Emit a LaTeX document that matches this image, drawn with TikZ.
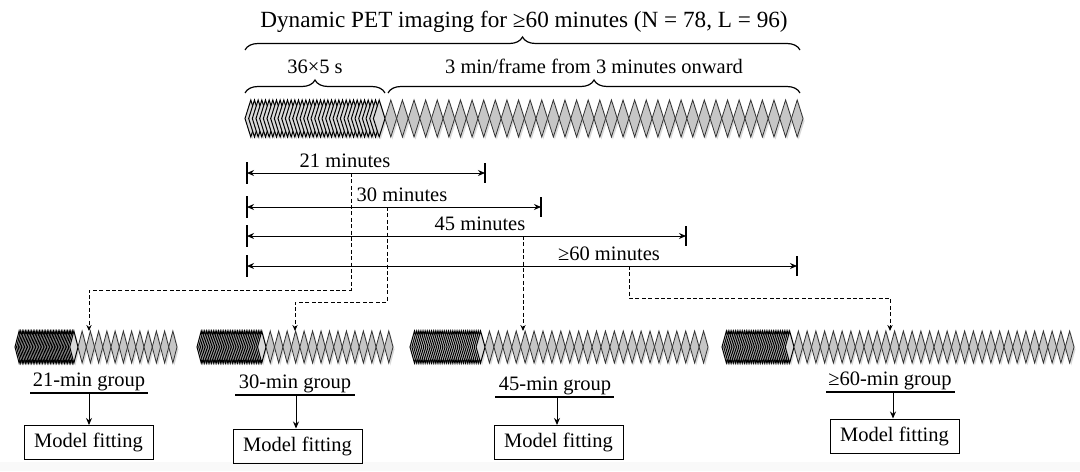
\documentclass[tikz,border=0pt]{standalone}
\usepackage{fontspec}
\setmainfont{Liberation Serif}
\usetikzlibrary{arrows.meta,decorations.pathreplacing}
\tikzset{
  txt/.style={font=\fontsize{10.25}{12}\selectfont, inner sep=0pt},
  lightd/.style={fill=gray!45, draw=black!80, line width=0.4pt},
  darkd/.style={fill=gray!30, draw=black, line width=0.5pt},
  shad/.style={fill=gray!30},
  meas/.style={{Stealth[length=3.5pt,width=3pt]}-{Stealth[length=3.5pt,width=3pt]}, line width=0.5pt},
  barline/.style={line width=0.6pt},
  dconn/.style={dash pattern=on 2pt off 1.2pt, line width=0.5pt, -{Stealth[length=3pt,width=2.6pt]}},
  downarr/.style={line width=0.5pt, -{Stealth[length=3.5pt,width=3pt]}},
  uline/.style={line width=0.6pt},
  fitbox/.style={draw, line width=0.5pt, minimum width=64.5pt, minimum height=17pt, inner sep=0pt, font=\fontsize{10.25}{12}\selectfont},
  bracedec/.style={decorate, decoration={brace, amplitude=#1}, line width=0.6pt},
}
% #1 x0, #2 xd, #3 x1, #4 nlight, #5 yc, #6 height
\newcommand\petstrip[6]{%
  \pgfmathsetmacro\lw{(#3-#2)/#4}%
  \pgfmathsetmacro\ds{(#2-#1-\lw)/35}%
  \pgfmathsetmacro\hh{#6/2}%
  \pgfmathsetmacro\hw{\lw/2}%
  \pgfmathtruncatemacro\nl{#4-1}%
  \foreach \i in {0,...,35} {%
    \pgfmathsetmacro\cx{#1+\hw+\i*\ds}%
    \fill[shad] (\cx-\hw+1.5,#5+2.5) -- (\cx+1.5,#5-\hh+2.5) -- (\cx+\hw+1.5,#5+2.5) -- (\cx+1.5,#5+\hh+2.5) -- cycle;}%
  \foreach \i in {0,...,\nl} {%
    \pgfmathsetmacro\cx{#2+\hw+\i*\lw}%
    \fill[shad] (\cx-\hw+1.5,#5+2.5) -- (\cx+1.5,#5-\hh+2.5) -- (\cx+\hw+1.5,#5+2.5) -- (\cx+1.5,#5+\hh+2.5) -- cycle;}%
  \foreach \i in {0,...,35} {%
    \pgfmathsetmacro\cx{#1+\hw+\i*\ds}%
    \filldraw[darkd] (\cx-\hw,#5) -- (\cx,#5-\hh) -- (\cx+\hw,#5) -- (\cx,#5+\hh) -- cycle;}%
  \foreach \i in {0,...,\nl} {%
    \pgfmathsetmacro\cx{#2+\hw+\i*\lw}%
    \filldraw[lightd] (\cx-\hw,#5) -- (\cx,#5-\hh) -- (\cx+\hw,#5) -- (\cx,#5+\hh) -- cycle;}%
}
\begin{document}
\begin{tikzpicture}[x=0.5pt,y=-0.5pt]
\useasboundingbox (0,0) rectangle (1080,471);
\fill[white] (0,0) rectangle (1080,471);
\fill[gray!5] (0,462) rectangle (1080,471);

% title and braces
\node[txt, font=\fontsize{11.6}{13}\selectfont, anchor=base] (title) at (524,27) {Dynamic PET imaging for ≥60 minutes (N = 78, L = 96)};
\draw[bracedec=6.5pt] (245,50) -- (800,50);
\node[txt, anchor=base] (fast) at (315,73) {36×5 s};
\node[txt, anchor=base] (slow) at (594,73) {3 min/frame from 3 minutes onward};
\draw[bracedec=6.5pt] (245,93) -- (385,93);
\draw[bracedec=6.5pt] (388,93) -- (800,93);

% top strip
\petstrip{245}{385}{803}{36}{118.5}{37}

% measurement lines
\foreach \n/\y/\xr/\lx/\lab in {1/173/485/345/21 minutes, 2/207/541/402/30 minutes, 3/236/686/480/45 minutes, 4/266/797/609/≥60 minutes}{
  \coordinate (ml\n) at (247,\y);
  \coordinate (mr\n) at (\xr,\y);
  \draw[barline] (247,\y-11) -- (247,\y+11);
  \draw[barline] (\xr,\y-10) -- (\xr,\y+10);
  \draw[meas] (ml\n) -- (mr\n);
  \node[txt, anchor=base] (mlab\n) at (\lx,\y-6) {\lab};
}

% dashed connectors
\coordinate (d1) at (351,173);
\coordinate (d2) at (387,207);
\coordinate (d3) at (523,236);
\coordinate (d4) at (629,266);
\coordinate (h1) at (89,290);
\coordinate (h2) at (295,302);
\coordinate (h4) at (890,298);
\coordinate (s1) at (89,331);
\coordinate (s2) at (295,331);
\coordinate (s3) at (523,331);
\coordinate (s4) at (890,331);
\draw[dconn] (d1) |- (h1) -- (s1);
\draw[dconn] (d2) |- (h2) -- (s2);
\draw[dconn] (d3) -- (s3);
\draw[dconn] (d4) |- (h4) -- (s4);

% bottom strips
\petstrip{15}{78}{177}{12}{347}{32}
\petstrip{197}{266}{393}{15}{347}{32}
\petstrip{410}{485}{708}{25}{347}{32}
\petstrip{722}{794}{1074}{32}{347}{32}

% group labels
\node[txt, anchor=base] (g1) at (89,386) {21-min group};
\node[txt, anchor=base] (g2) at (295,388) {30-min group};
\node[txt, anchor=base] (g3) at (555,390) {45-min group};
\node[txt, anchor=base] (g4) at (890,385) {≥60-min group};
\coordinate (u1) at (89,393);
\coordinate (u2) at (296,395);
\coordinate (u3) at (557,397);
\coordinate (u4) at (893,392);
\draw[uline] (30,393) -- (148,393);
\draw[uline] (235,395) -- (355,395);
\draw[uline] (495,397) -- (614,397);
\draw[uline] (826,392) -- (955,392);

% model fitting boxes
\node[fitbox] (b1) at (88.5,442.5) {Model fitting};
\node[fitbox] (b2) at (297.5,446) {Model fitting};
\node[fitbox] (b3) at (558.5,442.5) {Model fitting};
\node[fitbox] (b4) at (894.5,436) {Model fitting};
\draw[downarr] (u1) -- (u1 |- b1.north);
\draw[downarr] (u2) -- (u2 |- b2.north);
\draw[downarr] (u3) -- (u3 |- b3.north);
\draw[downarr] (u4) -- (u4 |- b4.north);
\end{tikzpicture}
\end{document}
